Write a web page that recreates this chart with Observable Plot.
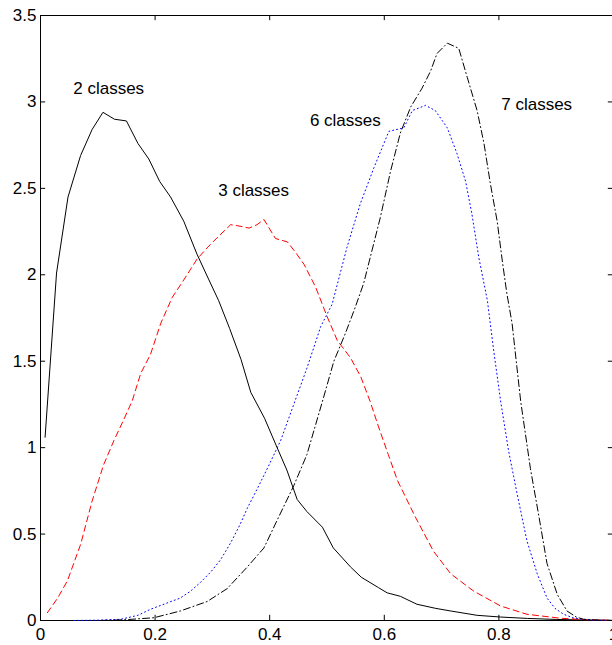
<!DOCTYPE html>
<html>
<head>
<meta charset="utf-8">
<script src="https://cdn.jsdelivr.net/npm/d3@7"></script>
<script src="https://cdn.jsdelivr.net/npm/@observablehq/plot@0.6"></script>
<style>
  html, body { margin: 0; padding: 0; background: #fff; overflow: hidden; }
</style>
</head>
<body>
<div id="chart"></div>
<script>
// --- Data ---
const x2 = [0.008, 0.028, 0.048, 0.070, 0.090, 0.109, 0.129, 0.150, 0.170, 0.189, 0.208, 0.227, 0.250, 0.273, 0.294, 0.311, 0.330, 0.350, 0.367, 0.391, 0.413, 0.430, 0.448, 0.465, 0.492, 0.511, 0.541, 0.560, 0.590, 0.605, 0.628, 0.657, 0.690, 0.716, 0.762, 0.803, 0.850, 0.900, 0.950, 0.998];
const y2 = [1.06, 2.01, 2.45, 2.69, 2.84, 2.94, 2.90, 2.89, 2.76, 2.67, 2.54, 2.45, 2.31, 2.12, 1.97, 1.85, 1.69, 1.51, 1.32, 1.17, 1.00, 0.87, 0.70, 0.63, 0.54, 0.42, 0.31, 0.25, 0.19, 0.16, 0.14, 0.094, 0.07, 0.055, 0.03, 0.02, 0.012, 0.006, 0.003, 0.001];

const x3 = [0.012, 0.030, 0.047, 0.070, 0.090, 0.110, 0.128, 0.145, 0.160, 0.175, 0.192, 0.210, 0.230, 0.250, 0.273, 0.292, 0.310, 0.332, 0.350, 0.364, 0.378, 0.390, 0.410, 0.431, 0.445, 0.460, 0.480, 0.500, 0.518, 0.541, 0.559, 0.575, 0.590, 0.607, 0.623, 0.654, 0.686, 0.716, 0.756, 0.803, 0.849, 0.908, 0.950, 0.998];
const y3 = [0.045, 0.13, 0.23, 0.44, 0.69, 0.90, 1.04, 1.16, 1.27, 1.43, 1.54, 1.72, 1.87, 1.97, 2.09, 2.16, 2.22, 2.29, 2.28, 2.27, 2.29, 2.32, 2.21, 2.19, 2.13, 2.06, 1.93, 1.76, 1.62, 1.52, 1.41, 1.27, 1.12, 0.96, 0.81, 0.60, 0.40, 0.27, 0.17, 0.084, 0.036, 0.013, 0.005, 0.001];

const x6 = [0.058, 0.10, 0.14, 0.17, 0.192, 0.220, 0.244, 0.262, 0.279, 0.297, 0.314, 0.332, 0.349, 0.361, 0.378, 0.396, 0.419, 0.442, 0.465, 0.489, 0.509, 0.535, 0.558, 0.582, 0.608, 0.634, 0.649, 0.672, 0.689, 0.710, 0.727, 0.742, 0.753, 0.765, 0.780, 0.791, 0.803, 0.817, 0.832, 0.849, 0.867, 0.884, 0.898, 0.913, 0.930, 0.948, 0.970, 0.998];
const y6 = [0.0, 0.002, 0.007, 0.03, 0.065, 0.10, 0.13, 0.17, 0.22, 0.28, 0.35, 0.45, 0.56, 0.65, 0.76, 0.88, 1.04, 1.25, 1.46, 1.70, 1.83, 2.16, 2.41, 2.62, 2.83, 2.85, 2.95, 2.98, 2.95, 2.85, 2.70, 2.54, 2.35, 2.10, 1.85, 1.56, 1.27, 0.98, 0.73, 0.46, 0.27, 0.13, 0.07, 0.036, 0.015, 0.007, 0.002, 0.0];

const x7 = [0.105, 0.15, 0.198, 0.244, 0.291, 0.326, 0.361, 0.390, 0.413, 0.442, 0.465, 0.494, 0.512, 0.532, 0.548, 0.564, 0.593, 0.611, 0.628, 0.646, 0.666, 0.681, 0.692, 0.710, 0.730, 0.745, 0.762, 0.774, 0.785, 0.797, 0.806, 0.814, 0.823, 0.838, 0.855, 0.870, 0.884, 0.902, 0.919, 0.935, 0.948, 0.970, 0.998];
const y7 = [0.0, 0.005, 0.016, 0.055, 0.11, 0.185, 0.31, 0.42, 0.58, 0.78, 0.96, 1.29, 1.50, 1.66, 1.80, 1.95, 2.33, 2.60, 2.82, 2.97, 3.08, 3.18, 3.28, 3.34, 3.31, 3.14, 2.95, 2.76, 2.53, 2.31, 2.08, 1.89, 1.72, 1.27, 0.88, 0.60, 0.33, 0.15, 0.055, 0.02, 0.007, 0.002, 0.0];

const labelText = ["2 classes", "3 classes", "6 classes", "7 classes"];
const labelX = [0.119, 0.372, 0.532, 0.866];
const labelY = [3.08, 2.49, 2.89, 2.985];

const xTicks = [0, 0.2, 0.4, 0.6, 0.8, 1];
const xTickLabels = ["0", "0.2", "0.4", "0.6", "0.8", "1"];
const yTicks = [0, 0.5, 1, 1.5, 2, 2.5, 3, 3.5];
const yTickLabels = ["0", "0.5", "1", "1.5", "2", "2.5", "3", "3.5"];

// --- Build tables ---
const pts = (xs, ys) => xs.map((x, i) => ({x, y: ys[i]}));
const s2 = pts(x2, y2), s3 = pts(x3, y3), s6 = pts(x6, y6), s7 = pts(x7, y7);
const labels = labelText.map((t, i) => ({t, x: labelX[i], y: labelY[i]}));
const xt = xTicks.map((v, i) => ({v, t: xTickLabels[i]}));
const yt = yTicks.map((v, i) => ({v, t: yTickLabels[i]}));

const font = "'Liberation Sans', Arial, Helvetica, sans-serif";
const fs = 17;

const chart = Plot.plot({
  width: 612,
  height: 645,
  marginLeft: 40,
  marginRight: 0,
  marginTop: 15,
  marginBottom: 25,
  style: {fontFamily: font, background: "#fff", overflow: "visible"},
  x: {domain: [0, 0.9983], axis: null},
  y: {domain: [0, 3.5], axis: null},
  marks: [
    // frame
    Plot.ruleX([0, 1], {stroke: "#000", strokeWidth: 1}),
    Plot.ruleY([0, 3.5], {stroke: "#000", strokeWidth: 1}),
    // inward ticks
    Plot.ruleX(xt, {x: "v", y1: 0, y2: 0.03, stroke: "#000"}),
    Plot.ruleX(xt, {x: "v", y1: 3.5, y2: 3.47, stroke: "#000"}),
    Plot.ruleY(yt, {y: "v", x1: 0, x2: 0.009, stroke: "#000"}),
    Plot.ruleY(yt, {y: "v", x1: 1, x2: 0.991, stroke: "#000"}),
    // tick labels
    Plot.text(xt, {x: "v", y: 0, text: "t", dy: 14, fontSize: fs, fill: "#000", textAnchor: "middle"}),
    Plot.text(yt, {x: 0, y: "v", text: "t", dx: -4, fontSize: fs, fill: "#000", textAnchor: "end"}),
    // curves
    Plot.line(s2, {x: "x", y: "y", stroke: "#000", strokeWidth: 1}),
    Plot.line(s3, {x: "x", y: "y", stroke: "#ff0000", strokeWidth: 1, strokeDasharray: "6,4"}),
    Plot.line(s6, {x: "x", y: "y", stroke: "#0000ff", strokeWidth: 1, strokeDasharray: "1,3"}),
    Plot.line(s7, {x: "x", y: "y", stroke: "#000", strokeWidth: 1, strokeDasharray: "7,3,1,3"}),
    // curve labels
    Plot.text(labels, {x: "x", y: "y", text: "t", fontSize: fs, fill: "#000", textAnchor: "middle"})
  ]
});
document.getElementById("chart").appendChild(chart);
</script>
</body>
</html>
